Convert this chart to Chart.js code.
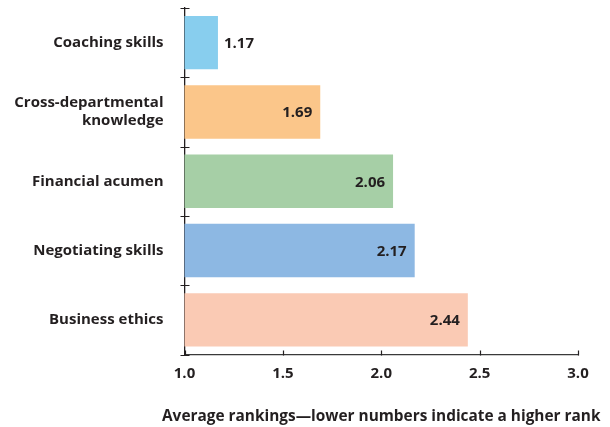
<!DOCTYPE html>
<html>
<head>
<meta charset="utf-8">
<script src="https://cdn.jsdelivr.net/npm/chart.js@4/dist/chart.umd.min.js"></script>
<style>
  html, body { margin: 0; padding: 0; background: #ffffff; }
  #wrap { width: 610px; height: 427px; }
</style>
</head>
<body>
<div id="wrap"><canvas id="chart" width="610" height="427"></canvas></div>
<script>
// Skills and their average rankings (lower = ranked higher)
const categories = ['Coaching skills', ['Cross-departmental', 'knowledge'], 'Financial acumen', 'Negotiating skills', 'Business ethics'];
const rankings = [1.17, 1.69, 2.06, 2.17, 2.44];
const barColors = ['#88CEEE', '#FBC68A', '#A6CFA6', '#8DB8E3', '#FACAB4'];
const xTicks = [1.0, 1.5, 2.0, 2.5, 3.0];
const axisTitle = 'Average rankings\u2014lower numbers indicate a higher rank';

const INK = '#231F20';
const FAMILY = '"Open Sans", "Noto Sans", sans-serif';

// Value labels: inside the bar end, or just past it when the bar is short
const valueLabels = {
  id: 'valueLabels',
  afterDatasetsDraw(chart) {
    const { ctx } = chart;
    const meta = chart.getDatasetMeta(0);
    const left = chart.scales.x.left;
    ctx.save();
    ctx.font = 'bold 15px ' + FAMILY;
    ctx.fillStyle = INK;
    ctx.textBaseline = 'middle';
    meta.data.forEach((bar, i) => {
      const text = rankings[i].toFixed(2);
      const width = bar.x - left;
      if (width < 45) {
        ctx.textAlign = 'left';
        ctx.fillText(text, bar.x + 6, bar.y + 1);
      } else {
        ctx.textAlign = 'right';
        ctx.fillText(text, bar.x - 8, bar.y + 1);
      }
    });
    ctx.restore();
  }
};

// Value-axis caption, centred under the plot and allowed to run wider than it
const axisCaption = {
  id: 'axisCaption',
  afterDraw(chart) {
    const { ctx } = chart;
    const x = chart.scales.x;
    ctx.save();
    ctx.font = 'bold 15.4px ' + FAMILY;
    ctx.fillStyle = INK;
    ctx.textAlign = 'center';
    ctx.textBaseline = 'middle';
    ctx.fillText(axisTitle, (x.left + x.right) / 2, x.bottom - 10);
    ctx.restore();
  }
};

// Small tick marks: inward ticks on the value axis, crosses between categories
const axisTicks = {
  id: 'axisTicks',
  afterDraw(chart) {
    const { ctx } = chart;
    const x = chart.scales.x;
    const y = chart.scales.y;
    ctx.save();
    ctx.strokeStyle = INK;
    ctx.lineWidth = 1.2;
    ctx.beginPath();
    xTicks.forEach(v => {
      const px = Math.round(x.getPixelForValue(v)) + 0.5;
      ctx.moveTo(px, y.bottom - 4);
      ctx.lineTo(px, y.bottom + 1);
    });
    for (let i = 0; i <= categories.length; i++) {
      const py = Math.round(y.getPixelForValue(i - 0.5)) + 0.5;
      ctx.moveTo(x.left - 4, py);
      ctx.lineTo(x.left + 5, py);
    }
    ctx.stroke();
    ctx.restore();
  }
};

new Chart(document.getElementById('chart'), {
  type: 'bar',
  data: {
    labels: categories,
    datasets: [{
      data: rankings,
      backgroundColor: barColors,
      borderWidth: 0,
      categoryPercentage: 1.0,
      barPercentage: 0.77
    }]
  },
  options: {
    indexAxis: 'y',
    responsive: false,
    devicePixelRatio: 1,
    animation: false,
    layout: { padding: { top: 8, right: 32, bottom: 0, left: 0 } },
    plugins: {
      legend: { display: false },
      tooltip: { enabled: false }
    },
    scales: {
      x: {
        type: 'linear',
        min: 1,
        max: 3,
        afterBuildTicks: s => { s.ticks = xTicks.map(v => ({ value: v })); },
        ticks: {
          callback: v => Number(v).toFixed(1),
          font: { family: FAMILY, size: 15, weight: 'bold' },
          color: INK,
          padding: 10,
          maxRotation: 0
        },
        grid: { display: false, drawTicks: false },
        border: { display: true, color: '#3a3a3a', width: 1.3 },
        title: { display: false },
        afterFit: s => { s.height = 72.5; s.paddingLeft = 0; s.paddingRight = 0; }
      },
      y: {
        type: 'category',
        offset: true,
        ticks: {
          font: { family: FAMILY, size: 15, weight: 'bold', lineHeight: 1.2 },
          color: INK,
          padding: 21
        },
        grid: { display: false, drawTicks: false },
        border: { display: true, color: INK, width: 1.3 },
        afterFit: s => { s.width = 184.5; s.paddingTop = 0; s.paddingBottom = 0; }
      }
    }
  },
  plugins: [valueLabels, axisCaption, axisTicks]
});
</script>
</body>
</html>
